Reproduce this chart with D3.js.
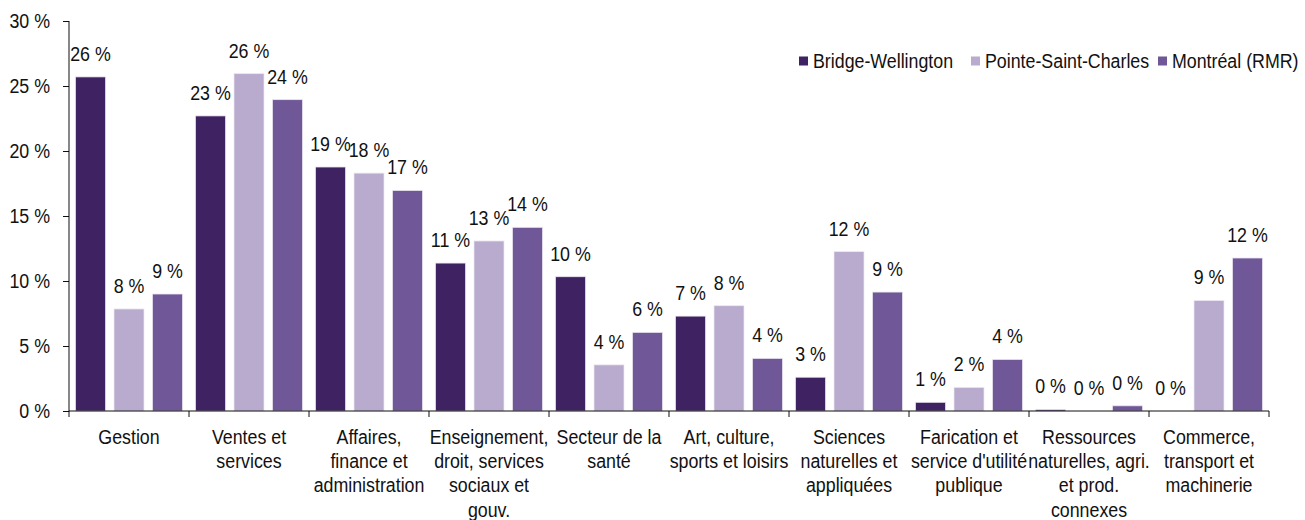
<!DOCTYPE html>
<html>
<head>
<meta charset="utf-8">
<script src="https://cdn.jsdelivr.net/npm/d3@7/dist/d3.min.js"></script>
<style>
  html, body { margin: 0; padding: 0; background: #fff; }
  svg { display: block; }
  text { font-family: Arial, "Liberation Sans", sans-serif; fill: #111; }
</style>
</head>
<body>
<div id="chart"></div>
<script>
// ---- data ----
const categories = [
  ["Gestion"],
  ["Ventes et", "services"],
  ["Affaires,", "finance et", "administration"],
  ["Enseignement,", "droit, services", "sociaux et", "gouv."],
  ["Secteur de la", "santé"],
  ["Art, culture,", "sports et loisirs"],
  ["Sciences", "naturelles et", "appliquées"],
  ["Farication et", "service d'utilité", "publique"],
  ["Ressources", "naturelles, agri.", "et prod.", "connexes"],
  ["Commerce,", "transport et", "machinerie"]
];
const seriesNames = ["Bridge-Wellington", "Pointe-Saint-Charles", "Montréal (RMR)"];
const bridgeWellington   = [25.7, 22.7, 18.77, 11.38, 10.33, 7.3, 2.6, 0.67, 0.12, 0];
const pointeSaintCharles = [7.85, 25.95, 18.3, 13.08, 3.55, 8.1, 12.26, 1.82, 0, 8.5];
const montreal           = [9.0, 23.95, 16.97, 14.13, 6.05, 4.05, 9.15, 3.97, 0.4, 11.77];
const yTicks = [0, 5, 10, 15, 20, 25, 30];
const yTickLabels = ["0 %", "5 %", "10 %", "15 %", "20 %", "25 %", "30 %"];
const colors = ["#3E2262", "#B9ABCE", "#705898"];

// ---- layout ----
const W = 1305, H = 520;
const SX = 0.89;              // horizontal condensation of the whole drawing
const X = v => v / SX;        // convert screen px to inner coordinate
const FONT = 20;

const svg = d3.select("#chart").append("svg").attr("width", W).attr("height", H);
const g = svg.append("g").attr("transform", `scale(${SX},1)`);

const series = [bridgeWellington, pointeSaintCharles, montreal];
const idx = d3.range(categories.length);

const x0 = d3.scaleBand().domain(idx).range([X(69), X(1269)]).padding(0);
const x1 = d3.scaleBand().domain([0, 1, 2])
  .range([X(6.5), X(113.5)]).paddingInner(0.221).paddingOuter(0);
const y = d3.scaleLinear().domain([0, 30]).range([411, 21]);

// bars
const groups = g.selectAll("g.cat").data(idx).join("g")
  .attr("class", "cat")
  .attr("transform", i => `translate(${x0(i)},0)`);

groups.selectAll("rect").data(i => series.map((s, k) => ({k, v: s[i]}))).join("rect")
  .attr("x", d => x1(d.k))
  .attr("width", x1.bandwidth())
  .attr("y", d => y(d.v))
  .attr("height", d => y(0) - y(d.v))
  .attr("fill", d => colors[d.k])
  .attr("stroke", "#ece8f2")
  .attr("stroke-width", 0.8);

groups.selectAll("text.lbl").data(i => series.map((s, k) => ({k, v: s[i]}))).join("text")
  .attr("class", "lbl")
  .attr("x", d => x1(d.k) + x1.bandwidth() / 2)
  .attr("y", d => y(d.v) - 16)
  .attr("text-anchor", "middle")
  .attr("font-size", FONT)
  .text(d => Math.round(d.v) + " %");

// y axis
const yAxis = d3.axisLeft(y).tickValues(yTicks).tickSize(X(6)).tickPadding(X(13))
  .tickFormat((d, i) => yTickLabels[i]);
const ya = g.append("g").attr("transform", `translate(${X(69)},0)`).call(yAxis);
ya.select(".domain").attr("stroke", "#000").attr("d", `M0,21V411`);
ya.selectAll(".tick line").attr("stroke", "#000");
ya.selectAll(".tick text").attr("font-size", FONT).attr("font-family", "Arial, 'Liberation Sans', sans-serif").attr("fill", "#111");

// x axis
const xa = g.append("g").attr("transform", `translate(0,411)`);
xa.append("line").attr("x1", X(69)).attr("x2", X(1269)).attr("y1", 0).attr("y2", 0).attr("stroke", "#000");
const edges = idx.map(i => x0(i)).concat([x0(idx.length - 1) + x0.bandwidth()]);
xa.selectAll("line.tk").data(edges).join("line").attr("class", "tk")
  .attr("x1", d => d).attr("x2", d => d).attr("y1", 0).attr("y2", 6).attr("stroke", "#000");

const catLbl = g.selectAll("text.cat").data(idx).join("text")
  .attr("class", "cat")
  .attr("text-anchor", "middle")
  .attr("font-size", FONT)
  .attr("transform", i => `translate(${x0(i) + x0.bandwidth() / 2},444)`);
catLbl.selectAll("tspan").data(i => categories[i]).join("tspan")
  .attr("x", 0).attr("y", (d, j) => j * 24.2).text(d => d);

// legend
const legendX = [813, 985, 1172];
const leg = g.selectAll("g.leg").data(seriesNames).join("g").attr("class", "leg")
  .attr("transform", (d, k) => `translate(${X(legendX[k])},61)`);
leg.append("rect").attr("x", X(-14)).attr("y", -4.5).attr("width", X(9)).attr("height", 9)
  .attr("fill", (d, k) => colors[k]);
leg.append("text").attr("x", 0).attr("y", 7).attr("font-size", FONT).text(d => d);
</script>
</body>
</html>
